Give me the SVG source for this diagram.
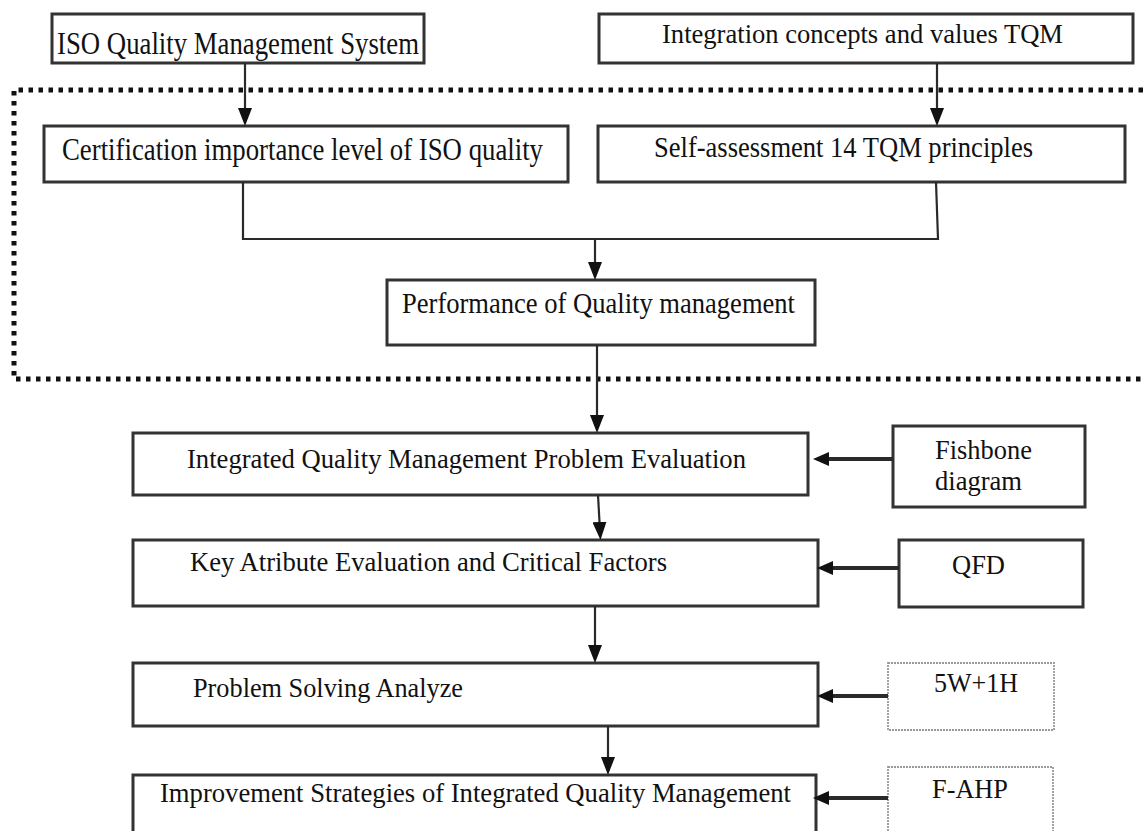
<svg xmlns="http://www.w3.org/2000/svg" width="1143" height="831" viewBox="0 0 1143 831">
<style>
  .box { fill: #ffffff; stroke: #333333; stroke-width: 3; }
  .lbox { fill: #ffffff; stroke: #9a9a9a; stroke-width: 1.8; stroke-dasharray: 2 1; }
  .t { font-family: "Liberation Serif", "Times New Roman", serif; fill: #111111; }
  .con { fill: none; stroke: #2a2a2a; stroke-width: 2.2; }
  .hcon { fill: none; stroke: #2a2a2a; stroke-width: 4; }
  .dots { fill: none; stroke: #111111; stroke-width: 5; stroke-dasharray: 4.5 5.5; }
</style>
<defs>
  <marker id="ah" viewBox="0 0 18 14" refX="9" refY="7" markerWidth="18" markerHeight="14" markerUnits="userSpaceOnUse" orient="auto">
    <path d="M0,0 L18,7 L0,14 z" fill="#111111"/>
  </marker>
  <marker id="ahh" viewBox="0 0 16 14" refX="8" refY="7" markerWidth="16" markerHeight="14" markerUnits="userSpaceOnUse" orient="auto">
    <path d="M0,0 L16,7 L0,14 z" fill="#111111"/>
  </marker>
</defs>
<rect width="1143" height="831" fill="#ffffff"/>

<path id="dotted-frame" class="dots" d="M1143,90 H14 V379 H1143"/>

<g id="n1"><rect class="box" x="52" y="14" width="372" height="49"/>
<text class="t" x="57" y="54" font-size="32" textLength="362" lengthAdjust="spacingAndGlyphs">ISO Quality Management System</text></g>

<g id="n2"><rect class="box" x="599" y="14" width="534" height="49"/>
<text class="t" x="662" y="43" font-size="28" textLength="401" lengthAdjust="spacingAndGlyphs">Integration concepts and values TQM</text></g>

<g id="n3"><rect class="box" x="44" y="126" width="524" height="56"/>
<text class="t" x="62" y="160" font-size="32" textLength="481" lengthAdjust="spacingAndGlyphs">Certification importance level of ISO quality</text></g>

<g id="n4"><rect class="box" x="598" y="126" width="527" height="56"/>
<text class="t" x="654" y="157" font-size="29" textLength="379" lengthAdjust="spacingAndGlyphs">Self-assessment 14 TQM principles</text></g>

<g id="n5"><rect class="box" x="387" y="280" width="428" height="65"/>
<text class="t" x="402" y="313" font-size="30" textLength="393" lengthAdjust="spacingAndGlyphs">Performance of Quality management</text></g>

<g id="n6"><rect class="box" x="133" y="433" width="675" height="62"/>
<text class="t" x="187" y="468" font-size="28" textLength="559" lengthAdjust="spacingAndGlyphs">Integrated Quality Management Problem Evaluation</text></g>

<g id="n7"><rect class="box" x="893" y="426" width="192" height="81"/>
<text class="t" x="935" y="459" font-size="27" textLength="97" lengthAdjust="spacingAndGlyphs">Fishbone</text>
<text class="t" x="935" y="490" font-size="27" textLength="87" lengthAdjust="spacingAndGlyphs">diagram</text></g>

<g id="n8"><rect class="box" x="133" y="540" width="685" height="66"/>
<text class="t" x="190" y="571" font-size="28" textLength="477" lengthAdjust="spacingAndGlyphs">Key Atribute Evaluation and Critical Factors</text></g>

<g id="n9"><rect class="box" x="899" y="540" width="184" height="67"/>
<text class="t" x="952" y="574" font-size="27" textLength="53" lengthAdjust="spacingAndGlyphs">QFD</text></g>

<g id="n10"><rect class="box" x="133" y="663" width="685" height="63"/>
<text class="t" x="193" y="697" font-size="27" textLength="270" lengthAdjust="spacingAndGlyphs">Problem Solving Analyze</text></g>

<g id="n11"><rect class="lbox" x="888" y="663" width="166" height="67"/>
<text class="t" x="934" y="692" font-size="27" textLength="84" lengthAdjust="spacingAndGlyphs">5W+1H</text></g>

<g id="n12"><rect class="box" x="133" y="775" width="683" height="75"/>
<text class="t" x="160" y="802" font-size="27" textLength="631" lengthAdjust="spacingAndGlyphs">Improvement Strategies of Integrated Quality Management</text></g>

<g id="n13"><rect class="lbox" x="888" y="767" width="165" height="83"/>
<text class="t" x="932" y="798" font-size="27" textLength="76" lengthAdjust="spacingAndGlyphs">F-AHP</text></g>

<g id="connectors">
  <line class="con" x1="245" y1="63" x2="245" y2="117" marker-end="url(#ah)"/>
  <line class="con" x1="937" y1="63" x2="937" y2="117" marker-end="url(#ah)"/>
  <polyline class="con" points="243,182 243,239 938,239 936,182"/>
  <line class="con" x1="595" y1="239" x2="595" y2="271" marker-end="url(#ah)"/>
  <line class="con" x1="597" y1="345" x2="597" y2="424" marker-end="url(#ah)"/>
  <line class="con" x1="598" y1="495" x2="600" y2="531" marker-end="url(#ah)"/>
  <line class="con" x1="595" y1="606" x2="595" y2="654" marker-end="url(#ah)"/>
  <line class="con" x1="608" y1="726" x2="608" y2="766" marker-end="url(#ah)"/>
  <line class="hcon" x1="893" y1="459" x2="821" y2="459" marker-end="url(#ahh)"/>
  <line class="hcon" x1="899" y1="568" x2="825" y2="568" marker-end="url(#ahh)"/>
  <line class="hcon" x1="888" y1="696" x2="825" y2="696" marker-end="url(#ahh)"/>
  <line class="hcon" x1="888" y1="798" x2="821" y2="798" marker-end="url(#ahh)"/>
</g>
</svg>
